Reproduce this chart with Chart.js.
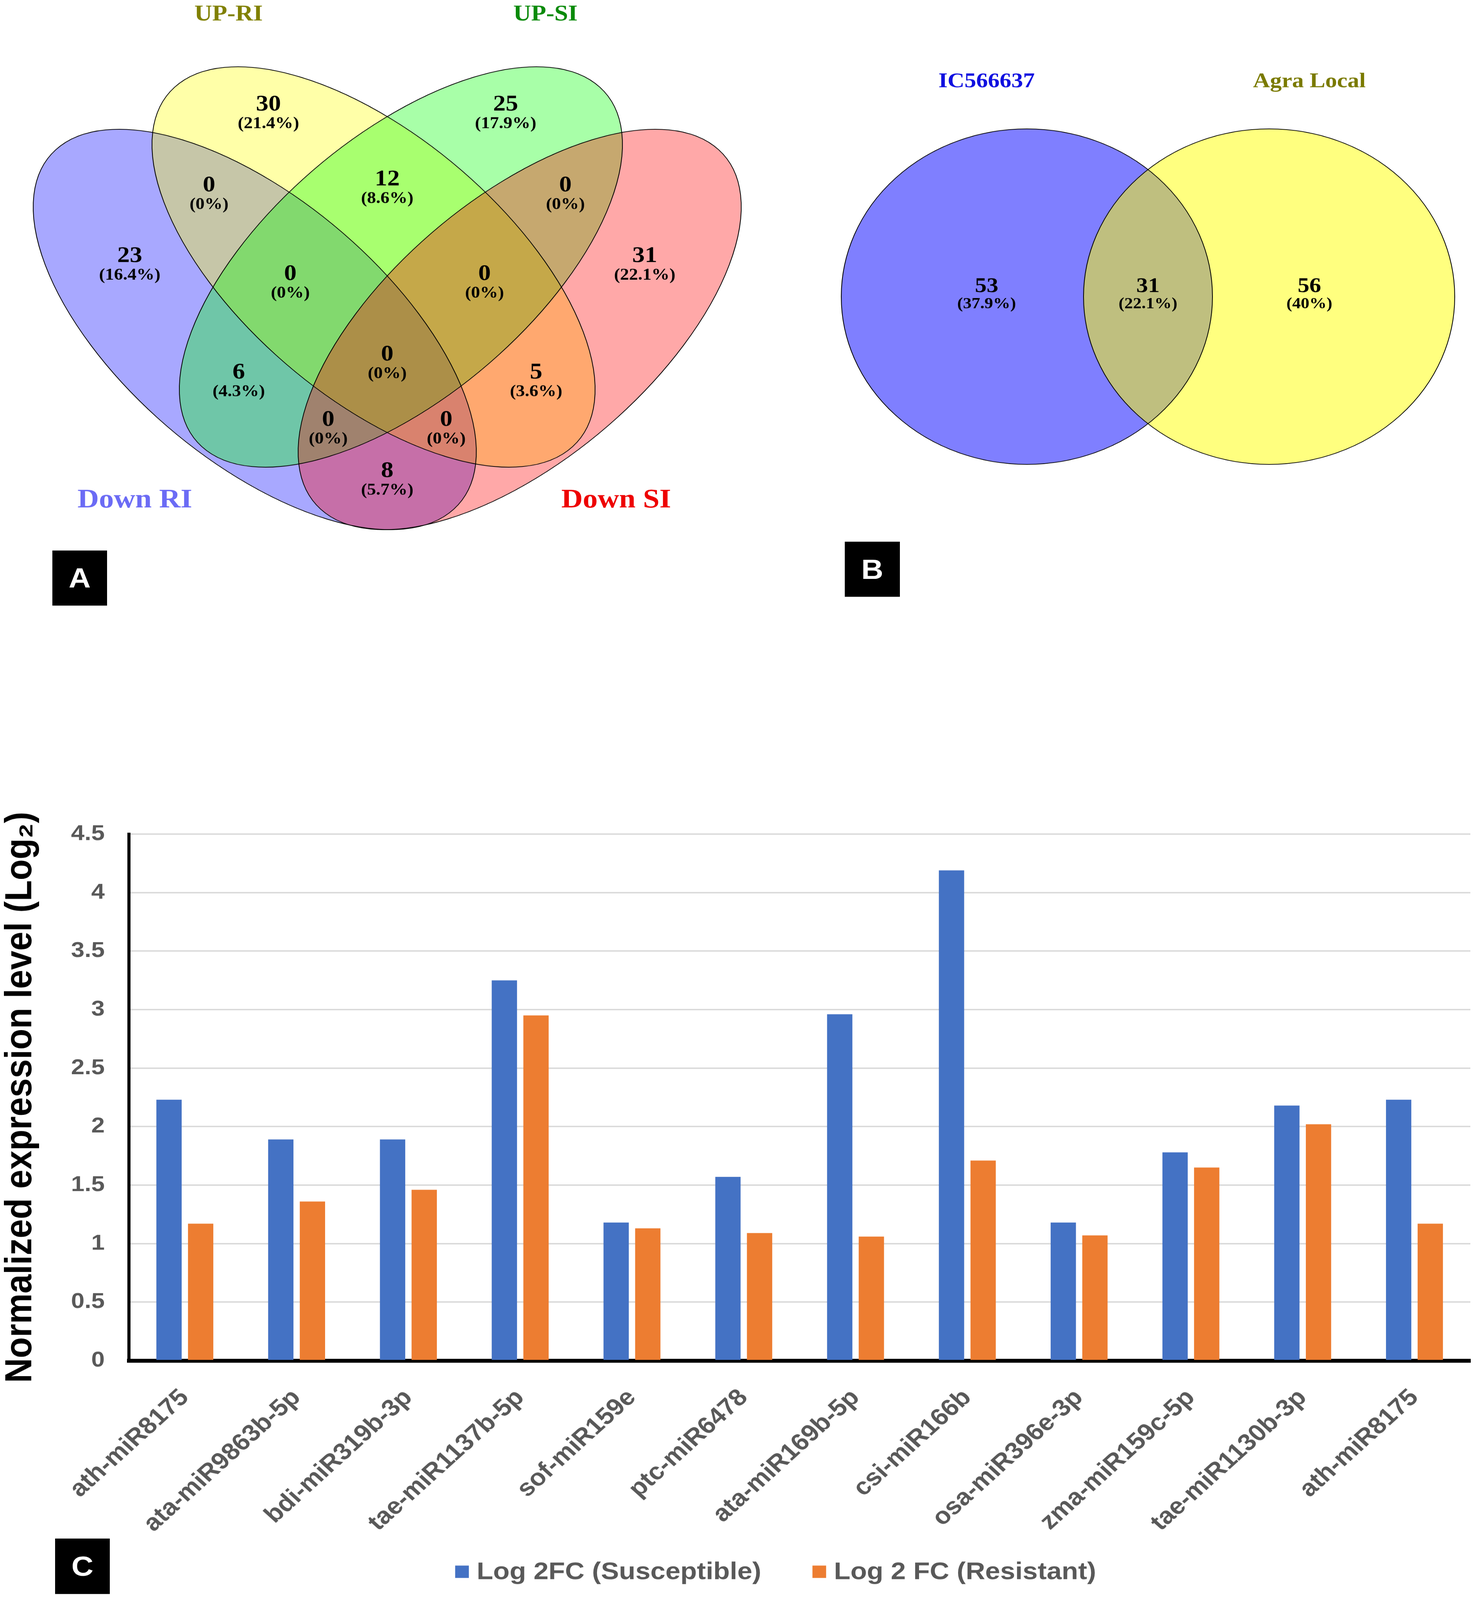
<!DOCTYPE html>
<html><head><meta charset="utf-8">
<script src="https://cdn.jsdelivr.net/npm/chart.js@4.4.1/dist/chart.umd.min.js"></script>
<style>
html,body{margin:0;padding:0;background:#fff;overflow:hidden;}
#page{position:absolute;left:0;top:0;width:3780px;height:4531px;transform-origin:0 0;background:#fff;}
canvas{position:absolute;}
.tag{position:absolute;background:#000;color:#fff;font:bold 78px "Liberation Sans",Arial,sans-serif;display:flex;align-items:center;justify-content:center;}
</style></head><body>
<div id="page">
<canvas id="venn" width="3780" height="1800" style="left:0;top:0"></canvas>
<canvas id="bars" width="3780" height="2331" style="left:0;top:2200px"></canvas>
<div class="tag" style="left:134px;top:1559px;width:140px;height:156px">A</div>
<div class="tag" style="left:2162px;top:1534px;width:141px;height:156px">B</div>
<div class="tag" style="left:141px;top:4357px;width:140px;height:157px">C</div>
</div>
<script>
// fit the 3780x4531 figure into the actual viewport
(function(){
  const kx = Math.min(1, window.innerWidth/3780), ky = Math.min(1, window.innerHeight/4531);
  document.getElementById('page').style.transform = 'scale('+kx+','+ky+')';
})();

// ---------------- DATA ----------------
const categories = ["ath-miR8175","ata-miR9863b-5p","bdi-miR319b-3p","tae-miR1137b-5p","sof-miR159e","ptc-miR6478","ata-miR169b-5p","csi-miR166b","osa-miR396e-3p","zma-miR159c-5p","tae-miR1130b-3p","ath-miR8175"];
const susceptible = [2.23,1.89,1.89,3.25,1.18,1.57,2.96,4.19,1.18,1.78,2.18,2.23];
const resistant   = [1.17,1.36,1.46,2.95,1.13,1.09,1.06,1.71,1.07,1.65,2.02,1.17];
const seriesNames = ["Log 2FC (Susceptible)","Log 2 FC (Resistant)"];
const yTicks = [0,0.5,1,1.5,2,2.5,3,3.5,4,4.5];
const yTitle = "Normalized expression level (Log\u2082)";

const vennASets = ["Down RI","UP-RI","UP-SI","Down SI"];
// regions: Y, G, B∩Y, Y∩G, G∩R, B, B∩Y∩G, Y∩G∩R, R, B∩G, all, Y∩R, B∩G∩R, B∩Y∩R, B∩R
const vennACounts   = [30,25,0,12,0,23,0,0,31,6,0,5,0,0,8];
const vennAPercents = [21.4,17.9,0,8.6,0,16.4,0,0,22.1,4.3,0,3.6,0,0,5.7];

const vennBSets = ["IC566637","Agra Local"];
const vennBCounts = [53,31,56];
const vennBPercents = [37.9,22.1,40];

// ---------------- LAYOUT / STYLE ----------------
const vennALayout = {
  ellipses:[
    {cx:652, cy:933, a:720, b:353, rot:Math.PI/4},
    {cx:956, cy:756, a:720, b:353, rot:Math.PI/4},
    {cx:1026,cy:756, a:720, b:353, rot:-Math.PI/4},
    {cx:1330,cy:933, a:720, b:353, rot:-Math.PI/4}
  ],
  fills:["rgba(0,0,255,0.34)","rgba(255,255,0,0.34)","rgba(0,255,0,0.34)","rgba(255,0,0,0.34)"],
  setLabelPos:[[345,1417],[585,42],[1396,42],[1577,1417]],
  setLabelColors:["#6b6bf5","#808000","#0a8a0a","#ee0000"],
  setLabelSizes:[76,63,63,76],
  regionPos:[[687,296],[1294,296],[535,525],[991,508],[1447,525],[332,725],[743,776],[1240,776],[1650,725],[611,1055],[991,1004],[1372,1055],[840,1189],[1142,1189],[991,1334]]
};
const vennBLayout = {
  circles:[{cx:2628,cy:840,r:475},{cx:3248,cy:840,r:475}],
  fills:["rgba(0,0,255,0.5)","rgba(255,255,0,0.5)"],
  setLabelPos:[[2525,231],[3351,231]],
  setLabelColors:["#1010e0","#7a7a00"],
  regionPos:[[2525,811],[2938,811],[3351,811]]
};

const serif = '"Liberation Serif","Times New Roman",serif';
const sans = '"Liberation Sans",Arial,sans-serif';

const vennPlugin = {
  id:'vennDraw',
  afterDraw(chart){
    const {ctx, scales:{x,y}} = chart;
    const px = v => x.getPixelForValue(v), py = v => y.getPixelForValue(v);
    const len = v => x.getPixelForValue(v) - x.getPixelForValue(0);
    ctx.save();
    ctx.textAlign='center'; ctx.textBaseline='middle';
    vennALayout.ellipses.forEach((e,i)=>{
      ctx.beginPath(); ctx.ellipse(px(e.cx),py(e.cy),len(e.a),len(e.b),e.rot,0,Math.PI*2);
      ctx.fillStyle=vennALayout.fills[i]; ctx.fill();
    });
    ctx.strokeStyle='#000'; ctx.lineWidth=2;
    vennALayout.ellipses.forEach(e=>{
      ctx.beginPath(); ctx.ellipse(px(e.cx),py(e.cy),len(e.a),len(e.b),e.rot,0,Math.PI*2); ctx.stroke();
    });
    vennACounts.forEach((c,i)=>{
      const [lx,ly]=vennALayout.regionPos[i];
      ctx.fillStyle='#000';
      ctx.font='bold 64px '+serif; ctx.fillText(String(c),px(lx),py(ly));
      ctx.font='bold 46px '+serif; ctx.fillText('('+vennAPercents[i]+'%)',px(lx),py(ly+55));
    });
    vennASets.forEach((s,i)=>{
      const [lx,ly]=vennALayout.setLabelPos[i];
      ctx.fillStyle=vennALayout.setLabelColors[i];
      ctx.font='bold '+vennALayout.setLabelSizes[i]+'px '+serif;
      ctx.fillText(s,px(lx),py(ly));
    });
    vennBLayout.circles.forEach((c,i)=>{
      ctx.beginPath(); ctx.arc(px(c.cx),py(c.cy),len(c.r),0,Math.PI*2);
      ctx.fillStyle=vennBLayout.fills[i]; ctx.fill();
    });
    vennBLayout.circles.forEach(c=>{
      ctx.beginPath(); ctx.arc(px(c.cx),py(c.cy),len(c.r),0,Math.PI*2); ctx.stroke();
    });
    vennBCounts.forEach((c,i)=>{
      const [lx,ly]=vennBLayout.regionPos[i];
      ctx.fillStyle='#000';
      ctx.font='bold 60px '+serif; ctx.fillText(String(c),px(lx),py(ly));
      ctx.font='bold 44px '+serif; ctx.fillText('('+vennBPercents[i]+'%)',px(lx),py(ly+51));
    });
    vennBSets.forEach((s,i)=>{
      const [lx,ly]=vennBLayout.setLabelPos[i];
      ctx.fillStyle=vennBLayout.setLabelColors[i];
      ctx.font='bold 60px '+serif; ctx.fillText(s,px(lx),py(ly));
    });
    ctx.restore();
  }
};

new Chart(document.getElementById('venn'),{
  type:'scatter',
  data:{datasets:[{data:[]}]},
  options:{
    responsive:false, devicePixelRatio:1, animation:false,
    layout:{padding:0},
    plugins:{legend:{display:false},tooltip:{enabled:false}},
    scales:{
      x:{type:'linear',min:0,max:3780,display:false},
      y:{type:'linear',min:0,max:1800,reverse:true,display:false}
    }
  },
  plugins:[vennPlugin]
});

const legendPlugin = {
  id:'customLegend',
  afterDraw(chart){
    const ctx=chart.ctx;
    ctx.save();
    ctx.font='bold 69px '+sans;
    ctx.textBaseline='middle'; ctx.textAlign='left';
    const box=35, gap=20, spacing=131;
    const items=chart.data.datasets.map(d=>({t:d.label,c:d.backgroundColor,w:ctx.measureText(d.label).width}));
    let total=0; items.forEach((it,i)=>{total+=box+gap+it.w+(i?spacing:0);});
    let xx=1985-total/2; const yc=2251;
    items.forEach(it=>{
      ctx.fillStyle=it.c; ctx.fillRect(xx,yc-box/2,box,box);
      ctx.fillStyle='#595959'; ctx.fillText(it.t,xx+box+gap,yc+2);
      xx+=box+gap+it.w+spacing;
    });
    ctx.restore();
  }
};

new Chart(document.getElementById('bars'),{
  type:'bar',
  data:{labels:categories,datasets:[
    {label:seriesNames[0],data:susceptible,backgroundColor:'#4472C4',categoryPercentage:0.566,barPercentage:0.8},
    {label:seriesNames[1],data:resistant,backgroundColor:'#ED7D31',categoryPercentage:0.566,barPercentage:0.8}
  ]},
  options:{
    responsive:false, devicePixelRatio:1, animation:false,
    layout:{padding:{top:162,right:17,left:0,bottom:0}},
    plugins:{legend:{display:false},tooltip:{enabled:false}},
    scales:{
      x:{
        grid:{display:false},
        border:{color:'#000',width:11},
        ticks:{autoSkip:false,minRotation:45,maxRotation:45,color:'#595959',padding:58,
               font:{family:sans,weight:'bold',size:67}},
        afterFit(s){s.height=678;}
      },
      y:{
        min:0,max:4.5,
        afterBuildTicks(s){s.ticks=yTicks.map(v=>({value:v}));},
        grid:{color:'#d9d9d9',lineWidth:4,drawTicks:false},
        border:{color:'#000',width:8},
        ticks:{color:'#595959',padding:62,font:{family:sans,weight:'bold',size:62},callback:v=>String(v)},
        title:{display:true,text:yTitle,color:'#000',padding:{top:0,bottom:0},font:{family:sans,weight:'bold',size:97,lineHeight:1.1}},
        afterFit(s){s.width=330;}
      }
    }
  },
  plugins:[legendPlugin]
});
</script>
</body></html>
